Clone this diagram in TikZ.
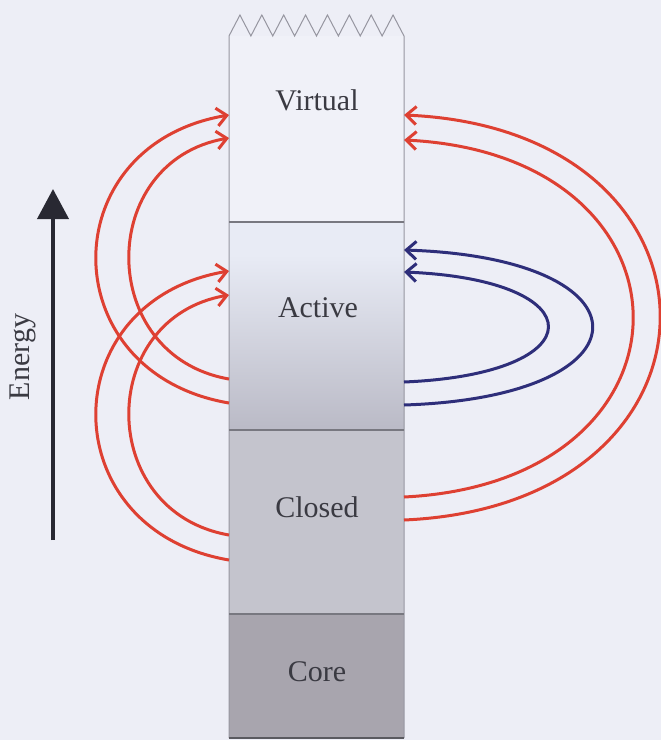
\documentclass[tikz,border=0pt]{standalone}
\usepackage{fontspec}
\setmainfont{Liberation Serif}
\usetikzlibrary{arrows.meta}

\definecolor{paper}{RGB}{237,238,246}
\definecolor{virtualfill}{RGB}{240,241,248}
\definecolor{activetop}{RGB}{232,235,245}
\definecolor{activebot}{RGB}{186,186,198}
\definecolor{closedfill}{RGB}{196,196,205}
\definecolor{corefill}{RGB}{168,165,174}
\definecolor{edgegray}{RGB}{150,150,160}
\definecolor{labelgray}{RGB}{58,58,66}
\definecolor{arcred}{RGB}{222,64,50}
\definecolor{arcblue}{RGB}{46,46,122}
\definecolor{inkdark}{RGB}{40,40,50}

\tikzset{
  shell/.style={font=\fontsize{30}{36}\selectfont, text=labelgray},
  flow/.style={line width=3pt, -{Straight Barb[length=10pt,width=18pt]}},
  hot/.style={flow, draw=arcred},
  cool/.style={flow, draw=arcblue},
}

\begin{document}
\begin{tikzpicture}[x=1pt,y=-1pt]
\fill[paper] (0,0) rectangle (661,740);
\useasboundingbox (0,0) rectangle (661,740);

% the shells, bottom to top
\fill[virtualfill] (229,36) rectangle (404,222);
\fill[activetop] (229,222) rectangle (404,255);
\shade[top color=activetop, bottom color=activebot] (229,255) rectangle (404,430);
\fill[closedfill] (229,430) rectangle (404,614);
\fill[corefill] (229,614) rectangle (404,738);

% outline with the broken top
\draw[edgegray, line width=1pt] (229,738) -- (229,36)
  \foreach \i in {0,...,7} { -- ({229+(\i+0.5)*21.875},15) -- ({229+(\i+1)*21.875},36) }
  -- (404,738);
\foreach \y in {222,430,614}
{
    \draw[edgegray!80!black, line width=1.2pt] (229,\y) -- (404,\y);
}
\draw[edgegray!60!black, line width=2pt] (229,738) -- (404,738);

\node[shell] (virtual) at (317,100) {Virtual};
\node[shell] (active) at (318,308) {Active};
\node[shell] (closed) at (317,507) {Closed};
\node[shell] (core) at (317,672) {Core};

% energy axis
\coordinate (elow) at (53,540);
\coordinate (ehigh) at (53,189);
\draw[inkdark, line width=4pt, -{Triangle[length=30pt,width=31pt]}] (elow) -- (ehigh);
\node[shell, rotate=90] (energy) at (23,357) {Energy};

% ends on the left edge
\coordinate (vl1) at (229,115);
\coordinate (vl2) at (229,138);
\coordinate (al1) at (229,271);
\coordinate (al2) at (229,295);
\coordinate (al3) at (229,379);
\coordinate (al4) at (229,403);
\coordinate (cl1) at (229,535);
\coordinate (cl2) at (229,560);
% ends on the right edge
\coordinate (vr1) at (404,115);
\coordinate (vr2) at (404,140);
\coordinate (ar1) at (404,250);
\coordinate (ar2) at (404,272);
\coordinate (ar3) at (404,382);
\coordinate (ar4) at (404,405);
\coordinate (cr1) at (404,497);
\coordinate (cr2) at (404,520);

\draw[hot] (al4) .. controls +(-177,-30) and +(-177,30) .. (vl1);
\draw[hot] (al3) .. controls +(-133,-23) and +(-133,23) .. (vl2);
\draw[hot] (cl2) .. controls +(-177,-30) and +(-177,30) .. (al1);
\draw[hot] (cl1) .. controls +(-133,-23) and +(-133,23) .. (al2);

\draw[hot] (cr2) .. controls +(341,-15) and +(341,15) .. (vr1);
\draw[hot] (cr1) .. controls +(305,-15) and +(305,15) .. (vr2);
\draw[cool] (ar4) .. controls +(251,-8) and +(251,8) .. (ar1);
\draw[cool] (ar3) .. controls +(192,-8) and +(192,8) .. (ar2);

\end{tikzpicture}
\end{document}
